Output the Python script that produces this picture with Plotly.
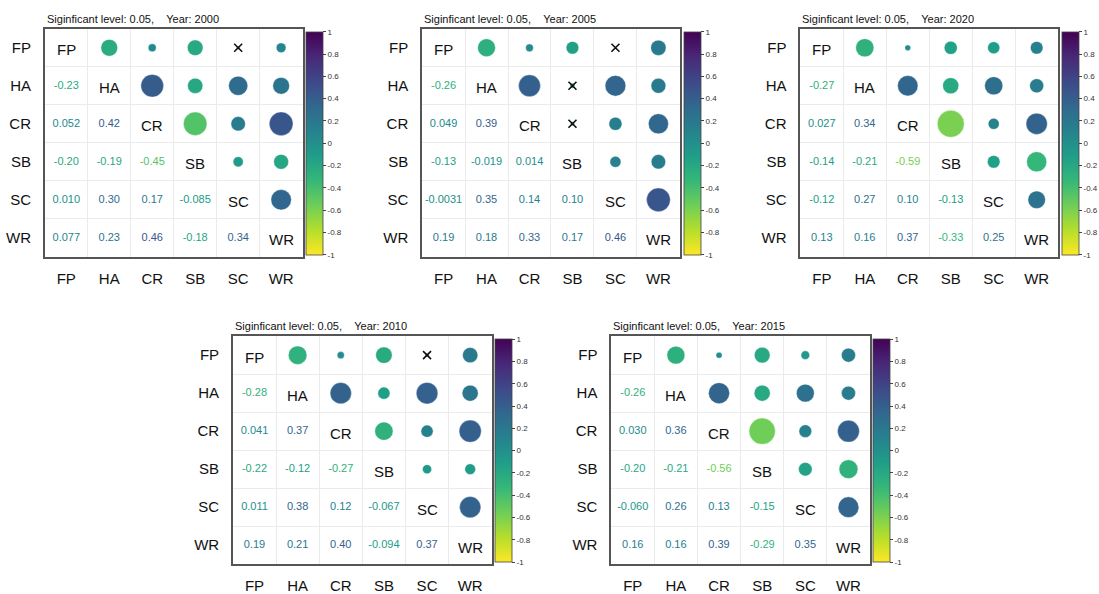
import math
import plotly.graph_objects as go
from plotly.colors import sample_colorscale, sequential

W, H = 1099, 594

variables = ["FP", "HA", "CR", "SB", "SC", "WR"]

# Lower-triangle Pearson correlations, row by row:
# HA|FP ; CR|FP,HA ; SB|FP,HA,CR ; SC|FP..SB ; WR|FP..SC
corr_2000 = [-0.23,
             0.052, 0.42,
             -0.20, -0.19, -0.45,
             0.010, 0.30, 0.17, -0.085,
             0.077, 0.23, 0.46, -0.18, 0.34]
corr_2005 = [-0.26,
             0.049, 0.39,
             -0.13, -0.019, 0.014,
             -0.0031, 0.35, 0.14, 0.10,
             0.19, 0.18, 0.33, 0.17, 0.46]
corr_2010 = [-0.28,
             0.041, 0.37,
             -0.22, -0.12, -0.27,
             0.011, 0.38, 0.12, -0.067,
             0.19, 0.21, 0.40, -0.094, 0.37]
corr_2015 = [-0.26,
             0.030, 0.36,
             -0.20, -0.21, -0.56,
             -0.060, 0.26, 0.13, -0.15,
             0.16, 0.16, 0.39, -0.29, 0.35]
corr_2020 = [-0.27,
             0.027, 0.34,
             -0.14, -0.21, -0.59,
             -0.12, 0.27, 0.10, -0.13,
             0.13, 0.16, 0.37, -0.33, 0.25]

# pairs not significant at the 0.05 level
insig_2000 = [("FP", "SC")]
insig_2005 = [("FP", "SC"), ("HA", "SB"), ("CR", "SB")]
insig_2010 = [("FP", "SC")]
insig_2015 = []
insig_2020 = []

cb_ticks = [1, 0.8, 0.6, 0.4, 0.2, 0, -0.2, -0.4, -0.6, -0.8, -1]
cb_ticktext = ["1", "0.8", "0.6", "0.4", "0.2", "0", "-0.2", "-0.4", "-0.6", "-0.8", "-1"]

# panel frames in pixels: (box left, top, right, bottom), colorbar (left, right)
panels = [
    (2000, corr_2000, insig_2000, (45, 29, 304, 259), (307, 324)),
    (2005, corr_2005, insig_2005, (424, 29, 683, 259), (687, 704)),
    (2020, corr_2020, insig_2020, (804, 29, 1063, 259), (1067, 1084)),
    (2010, corr_2010, insig_2010, (234, 339, 494, 569), (497, 514)),
    (2015, corr_2015, insig_2015, (614, 339, 874, 569), (877, 894)),
]

FONT = "Liberation Sans, Arial, Helvetica, sans-serif"
VIRIDIS = sequential.Viridis


def full_matrix(tri):
    n = len(variables)
    m = [[1.0] * n for _ in range(n)]
    k = 0
    for i in range(1, n):
        for j in range(i):
            m[i][j] = tri[k]
            m[j][i] = tri[k]
            k += 1
    return m


def fmt(v):
    if v == 0:
        return "0"
    d = max(2, 1 - math.floor(math.log10(abs(v))))
    return f"{v:.{d}f}"


def value_color(v):
    # viridis reversed over [-1, 1]
    return sample_colorscale(VIRIDIS, [(1 - v) / 2])[0]


fig = go.Figure()
layout_axes = {}
annotations = []

for idx, (year, tri, insig, box, cb) in enumerate(panels, start=1):
    xa = "x" if idx == 1 else f"x{idx}"
    ya = "y" if idx == 1 else f"y{idx}"
    xkey = "xaxis" if idx == 1 else f"xaxis{idx}"
    ykey = "yaxis" if idx == 1 else f"yaxis{idx}"
    m = full_matrix(tri)
    n = len(variables)

    # upper triangle: circles, area proportional to |r|
    cx, cy, cv = [], [], []
    for i in range(n):
        for j in range(i + 1, n):
            cx.append(j + 1)
            cy.append(i + 1)
            cv.append(m[i][j])
    left, top, right, bottom = box
    cb_l, cb_r = cb
    fig.add_trace(go.Scatter(
        x=cx, y=cy, xaxis=xa, yaxis=ya, mode="markers", hoverinfo="skip",
        marker=dict(
            size=[35 * math.sqrt(abs(v)) for v in cv],
            sizemode="diameter", opacity=1,
            color=cv, colorscale="Viridis", reversescale=True, cmin=-1, cmax=1,
            line=dict(width=0.6, color="rgba(255,255,255,0.6)"),
            showscale=True,
            colorbar=dict(
                x=cb_l / W, xanchor="left", xpad=0,
                y=1 - ((top + 3) + (bottom - 2)) / 2 / H, yanchor="middle", ypad=0,
                len=((bottom - 2) - (top + 3)) / H, lenmode="fraction",
                thickness=cb_r - cb_l, thicknessmode="pixels",
                outlinewidth=0.8, outlinecolor="#444444",
                tickmode="array", tickvals=cb_ticks, ticktext=cb_ticktext,
                ticks="outside", ticklen=3, tickwidth=0.8, tickcolor="#444444",
                tickfont=dict(family=FONT, size=8, color="#333333"),
            ),
        ),
    ))

    # crosses on non-significant pairs
    if insig:
        xs, ys = [], []
        for a, b in insig:
            ia, ib = variables.index(a), variables.index(b)
            r0, c0 = min(ia, ib), max(ia, ib)
            xs.append(c0 + 1)
            ys.append(r0 + 1)
        fig.add_trace(go.Scatter(
            x=xs, y=ys, xaxis=xa, yaxis=ya, mode="markers", hoverinfo="skip",
            marker=dict(symbol="x-thin", size=8, opacity=1,
                        line=dict(width=1.6, color="#111111")),
        ))

    # lower triangle: coefficients as text
    tx, ty, tt, tc = [], [], [], []
    for i in range(n):
        for j in range(i):
            tx.append(j + 1)
            ty.append(i + 1)
            tt.append(fmt(m[i][j]))
            tc.append(value_color(m[i][j]))
    fig.add_trace(go.Scatter(
        x=tx, y=ty, xaxis=xa, yaxis=ya, mode="text", text=tt, hoverinfo="skip",
        textposition="middle center",
        textfont=dict(family=FONT, size=11, color=tc),
    ))

    # diagonal labels
    for k, name in enumerate(variables):
        annotations.append(dict(
            x=k + 1, y=k + 1, xref=xa, yref=ya, text=name, showarrow=False,
            yshift=-2, font=dict(family=FONT, size=15, color="#111111"),
        ))

    # panel heading
    annotations.append(dict(
        x=0, y=1, xref=f"{xa} domain", yref=f"{ya} domain",
        xanchor="left", yanchor="middle", yshift=10, showarrow=False,
        text=f"Siginficant level: 0.05,\u00a0\u00a0\u00a0\u00a0Year: {year}",
        font=dict(family=FONT, size=11, color="#111111"),
    ))

    grid = [k + 1.5 for k in range(n - 1)]
    common = dict(
        tickmode="array", tickvals=list(range(1, n + 1)), ticktext=variables,
        ticks="outside", tickcolor="rgba(0,0,0,0)",
        tickfont=dict(family=FONT, size=15, color="#111111"),
        showgrid=False, zeroline=False,
        showline=True, mirror=True, linecolor="#555555", linewidth=1.6,
        minor=dict(tickmode="array", tickvals=grid, showgrid=True,
                   gridcolor="#ebebeb", gridwidth=1, ticks=""),
        fixedrange=True,
    )
    layout_axes[xkey] = dict(
        common, domain=[left / W, right / W], range=[0.5, n + 0.5],
        anchor=ya, ticklen=7,
    )
    layout_axes[ykey] = dict(
        common, domain=[1 - bottom / H, 1 - top / H], range=[n + 0.5, 0.5],
        anchor=xa, ticklen=9,
    )

fig.update_layout(
    width=W, height=H, autosize=False,
    margin=dict(l=0, r=0, t=0, b=0),
    paper_bgcolor="white", plot_bgcolor="white",
    showlegend=False,
    annotations=annotations,
    **layout_axes,
)

fig.write_html("out.html")
